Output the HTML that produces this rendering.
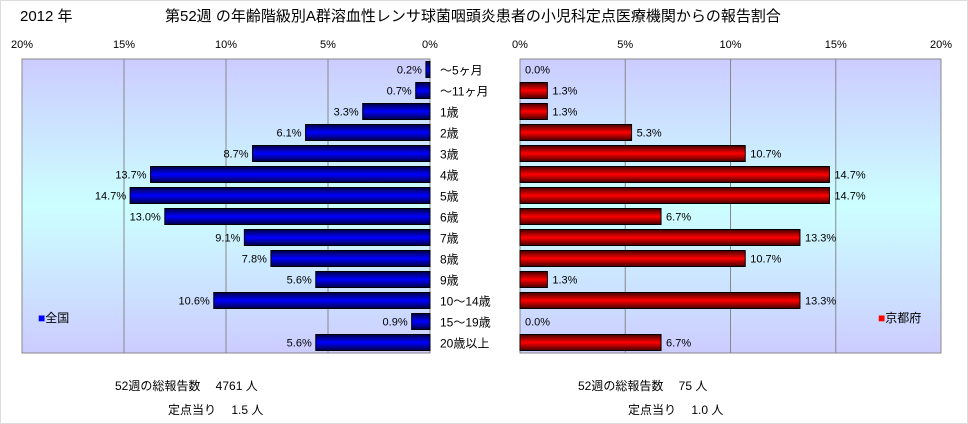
<!DOCTYPE html>
<html><head><meta charset="utf-8"><style>
body{margin:0;background:#fff;}
svg{display:block;font-family:"Liberation Sans","Noto Sans CJK JP",sans-serif;}
</style></head><body>
<svg id="c" width="968" height="424" viewBox="0 0 968 424">
<defs>
<linearGradient id="bg" x1="0" y1="0" x2="0" y2="1">
<stop offset="0" stop-color="#ccccff"/><stop offset="0.5" stop-color="#ccffff"/><stop offset="1" stop-color="#ccccff"/></linearGradient>
<linearGradient id="gb" x1="0" y1="0" x2="0" y2="1">
<stop offset="0" stop-color="#000044"/><stop offset="0.5" stop-color="#0000ff"/><stop offset="1" stop-color="#000044"/></linearGradient>
<linearGradient id="gr" x1="0" y1="0" x2="0" y2="1">
<stop offset="0" stop-color="#440000"/><stop offset="0.5" stop-color="#ff0000"/><stop offset="1" stop-color="#440000"/></linearGradient>
</defs>
<rect x="0.5" y="0.5" width="967" height="423" fill="#fff" stroke="#ddd"/>
<text x="20" y="21" font-size="15">2012 年</text>
<text x="165" y="21" font-size="15">第52週 の年齢階級別A群溶血性レンサ球菌咽頭炎患者の小児科定点医療機関からの報告割合</text>
<g id="g"></g>
<text x="38" y="322" font-size="12"><tspan fill="#0000ff">■</tspan>全国</text>
<text x="878" y="322" font-size="12"><tspan fill="#ff0000">■</tspan>京都府</text>
<text x="115" y="390" font-size="12">52週の総報告数　 4761 人</text>
<text x="168" y="414" font-size="12">定点当り　 1.5 人</text>
<text x="578" y="390" font-size="12">52週の総報告数　 75 人</text>
<text x="628" y="414" font-size="12">定点当り　 1.0 人</text>
</svg>
<script>
const categories=["～5ヶ月","～11ヶ月","1歳","2歳","3歳","4歳","5歳","6歳","7歳","8歳","9歳","10～14歳","15～19歳","20歳以上"];
const nationalValues=[0.2,0.7,3.3,6.1,8.7,13.7,14.7,13.0,9.1,7.8,5.6,10.6,0.9,5.6];
const kyotoValues=[0.0,1.3,1.3,5.3,10.7,14.7,14.7,6.7,13.3,10.7,1.3,13.3,0.0,6.7];
const ticks=[0,5,10,15,20];
const NS="http://www.w3.org/2000/svg";
const g=document.getElementById('g');
const plotTop=59,plotBottom=353,rowH=(plotBottom-plotTop)/categories.length;
const L0=430,L20=22,R0=520,R20=941;
const xl=v=>L0-(L0-L20)*v/20;
const xr=v=>R0+(R20-R0)*v/20;
const yc=i=>plotTop+rowH*i+rowH/2;
function mk(tag,attrs,txt){const e=document.createElementNS(NS,tag);for(const k in attrs)e.setAttribute(k,attrs[k]);if(txt!==undefined)e.textContent=txt;g.appendChild(e);return e;}
let e;
e=mk('rect',{x:L20,y:plotTop,width:L0-L20,height:plotBottom-plotTop,fill:'url(#bg)'});


e=mk('rect',{x:R0,y:plotTop,width:R20-R0,height:plotBottom-plotTop,fill:'url(#bg)'});


ticks.forEach(t=>{
 e=mk('line',{x1:xl(t),x2:xl(t),y1:plotTop,y2:plotBottom,stroke:'#888'});
 
 
 e=mk('line',{x1:xr(t),x2:xr(t),y1:plotTop,y2:plotBottom,stroke:'#888'});
 
 
 e=mk('text',{x:xl(t),y:48,'font-size':11,'text-anchor':'middle'},t+'%');
 
 
 e=mk('text',{x:xr(t),y:48,'font-size':11,'text-anchor':'middle'},t+'%');
 
 
});
e=mk('rect',{x:L20,y:plotTop,width:L0-L20,height:plotBottom-plotTop,fill:'none',stroke:'#888'});


e=mk('rect',{x:R0,y:plotTop,width:R20-R0,height:plotBottom-plotTop,fill:'none',stroke:'#888'});


categories.forEach((c,i)=>{
 const v=nationalValues[i],k=kyotoValues[i],cy=yc(i);
 e=mk('rect',{x:xl(v),y:cy-8,width:Math.max(xl(0)-xl(v),0.1),height:16,fill:'url(#gb)',stroke:'#000'});
 
 
 e=mk('text',{x:xl(v)-4,y:cy+4,'font-size':11,'text-anchor':'end'},v.toFixed(1)+'%');
 
 
 if(k>0){
 e=mk('rect',{x:xr(0),y:cy-8,width:xr(k)-xr(0),height:16,fill:'url(#gr)',stroke:'#000'});
 
 }
 e=mk('text',{x:xr(k)+5,y:cy+4,'font-size':11},k.toFixed(1)+'%');
 
 
 e=mk('text',{x:440,y:cy+5,'font-size':12},c);
 
 
});
</script>
</body></html>
